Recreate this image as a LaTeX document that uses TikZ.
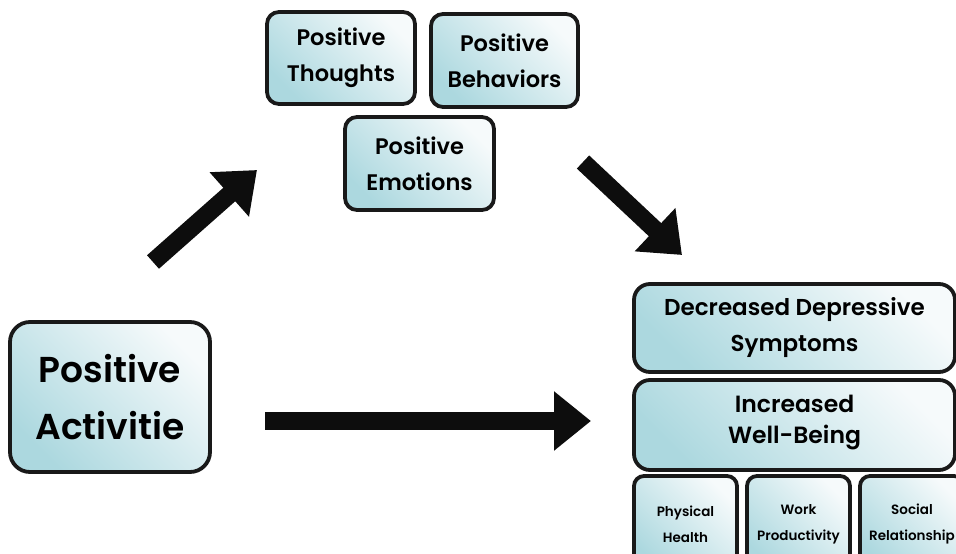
\documentclass[tikz,border=0pt]{standalone}
\usepackage{fontspec}
\setmainfont{Poppins}[BoldFont={Poppins SemiBold}]
\usetikzlibrary{arrows.meta}
\definecolor{boxdark}{RGB}{172,216,223}
\definecolor{boxlight}{RGB}{246,250,251}
\tikzset{
  gbox/.style={draw=black!90, line width=3.8pt, rounded corners=12pt,
    top color=boxlight, bottom color=boxdark, shading angle=-45,
    align=center, inner sep=0pt, font=\bfseries},
  bigarrow/.style={line width=18pt, black!95, -{Triangle[length=37pt,width=57pt]}},
}
\begin{document}
\begin{tikzpicture}[x=1pt,y=-1pt]
\useasboundingbox (0,0) rectangle (956,554);
\clip (0,0) rectangle (956,554);
% top boxes
\node[gbox, minimum width=148pt, minimum height=92pt, font=\bfseries\fontsize{22.5}{36}\selectfont] (thoughts) at (341,58) {Positive\\Thoughts};
\node[gbox, minimum width=147pt, minimum height=93pt, font=\bfseries\fontsize{22.5}{36}\selectfont] (behav) at (504.5,60.5) {Positive\\Behaviors};
\node[gbox, minimum width=149pt, minimum height=93pt, font=\bfseries\fontsize{22.5}{36}\selectfont] (emot) at (419.5,163.5) {Positive\\Emotions};
% left box
\node[gbox, rounded corners=20pt, minimum width=200pt, minimum height=150pt, font=\bfseries\fontsize{36}{57}\selectfont] (act) at (110,397) {Positive\\Activitie};
% right boxes
\node[gbox, rounded corners=16pt, minimum width=321pt, minimum height=88pt, font=\bfseries\fontsize{23}{36}\selectfont] (dds) at (794.5,328) {Decreased Depressive\\Symptoms};
\node[gbox, rounded corners=16pt, minimum width=321pt, minimum height=90pt, font=\bfseries\fontsize{23.5}{31}\selectfont] (wb) at (794.5,425) {Increased\\Well-Being\rule[-12pt]{0pt}{0pt}};
\node[gbox, rounded corners=10pt, minimum width=103pt, minimum height=96pt, font=\bfseries\fontsize{13.5}{26}\selectfont] (ph) at (685.5,524) {Physical\\Health};
\node[gbox, rounded corners=10pt, minimum width=103pt, minimum height=96pt, font=\bfseries\fontsize{13.5}{26}\selectfont] (wp) at (798.5,524) {Work\\Productivity};
\node[gbox, rounded corners=10pt, minimum width=104pt, minimum height=96pt, font=\bfseries\fontsize{13.5}{26}\selectfont] (sr) at (912,524) {Social\\Relationship};
% arrows
\coordinate (a1s) at (153,262);
\coordinate (a1e) at (257,170);
\coordinate (a2s) at (583,162);
\coordinate (a2e) at (682,255);
\coordinate (a3s) at (265,421);
\coordinate (a3e) at (591,421);
\draw[bigarrow] (a1s) -- (a1e);
\draw[bigarrow] (a2s) -- (a2e);
\draw[bigarrow] (a3s) -- (a3e);
\end{tikzpicture}
\end{document}
